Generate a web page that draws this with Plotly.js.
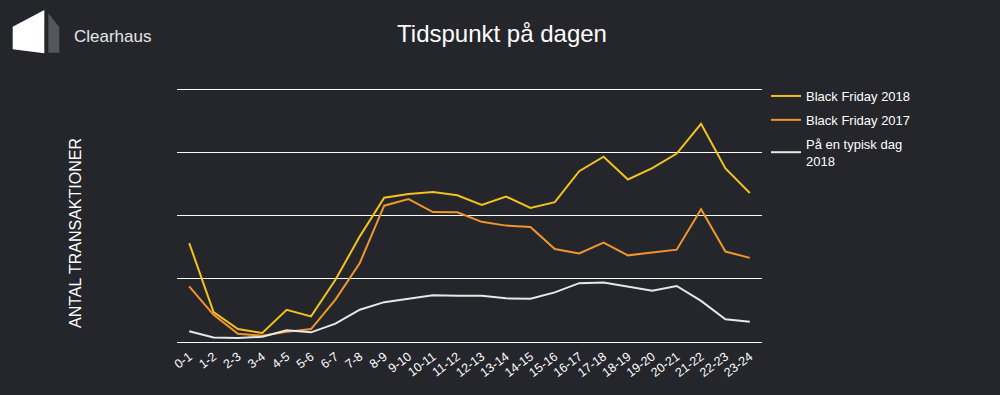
<!DOCTYPE html>
<html>
<head>
<meta charset="utf-8">
<script src="https://cdn.plot.ly/plotly-3.0.1.min.js"></script>
<style>
  html, body { margin: 0; padding: 0; background: #25262b; }
  #chart { width: 1000px; height: 395px; }
</style>
</head>
<body>
<div id="chart"></div>
<script>
const hours = ["0-1","1-2","2-3","3-4","4-5","5-6","6-7","7-8","8-9","9-10","10-11","11-12",
  "12-13","13-14","14-15","15-16","16-17","17-18","18-19","19-20","20-21","21-22","22-23","23-24"];

const bf2018 = [1.565,0.474,0.205,0.142,0.51,0.405,0.985,1.67,2.28,2.34,2.37,2.32,
  2.166,2.30,2.12,2.21,2.70,2.93,2.57,2.75,2.98,3.45,2.745,2.355];

const bf2017 = [0.88,0.43,0.13,0.10,0.16,0.205,0.67,1.25,2.155,2.26,2.055,2.05,
  1.90,1.84,1.82,1.47,1.40,1.57,1.37,1.42,1.46,2.10,1.43,1.33];

const typical2018 = [0.17,0.07,0.063,0.084,0.185,0.153,0.29,0.51,0.63,0.68,0.74,0.73,
  0.73,0.69,0.685,0.785,0.93,0.94,0.87,0.81,0.885,0.65,0.36,0.32];

const seriesNames = ["Black Friday 2018", "Black Friday 2017", "På en typisk dag<br>2018"];

const W = 1000, H = 395;
const M = {l: 177, r: 238, t: 87, b: 53};
const PW = W - M.l - M.r, PH = H - M.t - M.b;
const px = x => (x - M.l) / PW;
const py = y => (H - M.b - y) / PH;
// plot area is 2px taller than the gridded span so the top gridline is drawn
const yTop = 4 * PH / (PH - 2);

const traces = [
  {x: hours, y: bf2018, name: seriesNames[0], legendgroup: 'a', type: 'scatter', mode: 'lines',
   line: {color: '#f2c21f', width: 2}},
  {x: hours, y: bf2017, name: seriesNames[1], legendgroup: 'b', type: 'scatter', mode: 'lines',
   line: {color: '#f0962d', width: 2}},
  {x: hours, y: typical2018, name: seriesNames[2], legendgroup: 'c', type: 'scatter', mode: 'lines',
   line: {color: '#e8e8e8', width: 2}}
];

function path(pts) {
  return 'M' + pts.map(p => px(p[0]).toFixed(5) + ',' + py(p[1]).toFixed(5)).join('L') + 'Z';
}

const layout = {
  width: W, height: H,
  margin: M,
  paper_bgcolor: '#25262b',
  plot_bgcolor: '#25262b',
  font: {family: 'Liberation Sans, Arial, sans-serif', color: '#ffffff'},
  title: {text: 'Tidspunkt på dagen', font: {size: 24, color: '#ffffff'},
          x: 0.502, xanchor: 'center', y: 0.915, yanchor: 'middle'},
  showlegend: true,
  legend: {x: px(766), y: py(81), xanchor: 'left', yanchor: 'top',
           font: {size: 13, color: '#ffffff'}, bgcolor: 'rgba(0,0,0,0)',
           tracegroupgap: 4, itemwidth: 30},
  xaxis: {type: 'category', range: [-0.5, 23.5], showgrid: false, zeroline: false,
          showline: false, ticks: '', tickangle: -37, ticklabelstandoff: 4,
          tickfont: {size: 12.5, color: '#ffffff'}, fixedrange: true},
  yaxis: {range: [0, yTop], tickvals: [0, 1, 2, 3, 4], showgrid: true, gridcolor: '#ffffff', gridwidth: 1,
          zeroline: true, zerolinecolor: '#ffffff', zerolinewidth: 1,
          showticklabels: false, ticks: '', fixedrange: true},
  annotations: [
    {text: 'ANTAL TRANSAKTIONER', textangle: -90, xref: 'paper', yref: 'paper',
     x: px(75.5), y: py(233.5), xanchor: 'center', yanchor: 'middle', showarrow: false,
     font: {size: 16, color: '#ffffff'}},
    {text: 'Clearhaus', xref: 'paper', yref: 'paper', x: px(72), y: py(36),
     xanchor: 'left', yanchor: 'middle', showarrow: false,
     font: {size: 17, color: '#e6e6e6'}}
  ],
  shapes: [
    {type: 'path', xref: 'paper', yref: 'paper', line: {width: 0}, fillcolor: '#ffffff',
     path: path([[12.7, 26.7], [44.3, 10], [44.3, 53.3], [12.7, 49.3]])},
    {type: 'path', xref: 'paper', yref: 'paper', line: {width: 0}, fillcolor: '#55565c',
     path: path([[48.3, 13.3], [59.3, 27], [59.3, 52.7], [48.3, 52.7]])}
  ]
};

Plotly.newPlot('chart', traces, layout, {displayModeBar: false, staticPlot: true});
</script>
</body>
</html>
